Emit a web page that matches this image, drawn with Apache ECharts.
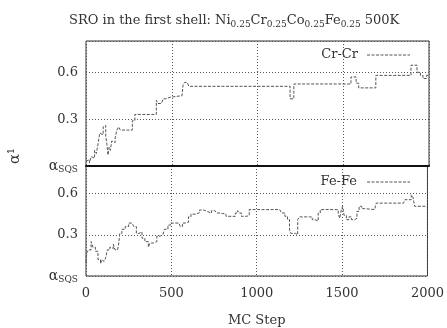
<!DOCTYPE html>
<html>
<head>
<meta charset="utf-8">
<script src="https://cdn.jsdelivr.net/npm/echarts@6/dist/echarts.min.js"></script>
<style>
  html, body { margin: 0; padding: 0; background: #fff; }
  #chart { width: 447px; height: 328px; }
</style>
</head>
<body>
<div id="chart"></div>
<script>
// Monte Carlo trajectory of the first-shell SRO parameter (Cr-Cr pair)
const crSteps = [0, 10, 20, 30, 40, 50, 60, 70, 80, 90, 100, 108, 115, 122, 128, 135, 142, 150, 160, 170,
  180, 190, 200, 270, 285, 410, 420, 440, 450, 465, 490, 560, 566, 575, 590, 600, 1190, 1212,
  1545, 1575, 1590, 1690, 1895, 1930, 1950, 1965, 1985, 2000];
const crValues = [0.03, 0.04, 0.02, 0.06, 0.05, 0.10, 0.08, 0.14, 0.21, 0.20, 0.25, 0.26, 0.19, 0.14, 0.07, 0.12, 0.10, 0.16, 0.15, 0.18,
  0.23, 0.25, 0.23, 0.29, 0.33, 0.42, 0.40, 0.41, 0.43, 0.44, 0.45, 0.45, 0.52, 0.535, 0.53, 0.51, 0.43, 0.525,
  0.57, 0.53, 0.50, 0.58, 0.645, 0.60, 0.58, 0.56, 0.58, 0.58];

// Same quantity for the Fe-Fe pair
const feSteps = [0, 5, 15, 30, 40, 55, 70, 85, 95, 105, 115, 125, 140, 150, 160, 170, 185, 192, 198, 210,
  230, 250, 270, 280, 295, 310, 328, 345, 365, 375, 395, 415, 435, 450, 460, 480, 495, 545, 552, 565,
  580, 600, 615, 640, 665, 690, 715, 735, 755, 765, 785, 820, 860, 875, 888, 898, 910, 940, 956, 1135,
  1145, 1165, 1180, 1192, 1200, 1228, 1240, 1250, 1310, 1325, 1341, 1360, 1372, 1465, 1477, 1486, 1495, 1503, 1512, 1525,
  1540, 1555, 1575, 1587, 1600, 1615, 1632, 1690, 1700, 1860, 1868, 1905, 1915, 1925, 2000];
const feValues = [0.10, 0.17, 0.19, 0.25, 0.21, 0.18, 0.12, 0.09, 0.12, 0.105, 0.13, 0.19, 0.21, 0.20, 0.23, 0.19, 0.20, 0.24, 0.31, 0.34,
  0.36, 0.385, 0.385, 0.36, 0.31, 0.32, 0.275, 0.25, 0.21, 0.24, 0.25, 0.29, 0.30, 0.31, 0.34, 0.37, 0.385, 0.385, 0.36, 0.385,
  0.39, 0.43, 0.45, 0.46, 0.48, 0.467, 0.458, 0.475, 0.475, 0.458, 0.45, 0.434, 0.434, 0.458, 0.475, 0.458, 0.434, 0.44, 0.483, 0.483,
  0.458, 0.434, 0.41, 0.336, 0.31, 0.30, 0.41, 0.43, 0.43, 0.41, 0.40, 0.458, 0.483, 0.483, 0.458, 0.42, 0.48, 0.507, 0.44, 0.41,
  0.43, 0.41, 0.42, 0.47, 0.507, 0.49, 0.483, 0.483, 0.53, 0.536, 0.555, 0.59, 0.575, 0.507, 0.507];

const xTicks = [0, 500, 1000, 1500, 2000];
const pairNames = ['Cr-Cr', 'Fe-Fe'];

const SERIF = '"DejaVu Serif", "Liberation Serif", serif';
const INK = '#333';

const chart = echarts.init(document.getElementById('chart'), null, { renderer: 'canvas' });

const zip = (xs, ys) => xs.map((x, i) => [x, ys[i]]);

// main glyphs plus a smaller, lowered run for subscripts
const richText = (size, subSize, drop) => ({
  t: { fontFamily: SERIF, fontSize: size, fontWeight: 'normal', color: INK },
  s: { fontFamily: SERIF, fontSize: subSize, fontWeight: 'normal', color: INK, padding: [drop * 2, 0, 0, 0] }
});

const yFormatter = v => (v === 0 ? '{t|α}{s|SQS}' : (v === 0.3 || v === 0.6 ? v.toFixed(1) : ''));

const gridLine = { show: true, lineStyle: { color: '#555', type: [1, 2], width: 1 } };

const xAxisBase = {
  type: 'value', min: 0, max: 2000, interval: 500,
  axisTick: { show: false },
  axisLine: { show: false },
  splitLine: gridLine
};
const yAxisBase = {
  type: 'value', min: 0, max: 0.8, interval: 0.3,
  axisTick: { show: false },
  axisLine: { show: false },
  splitLine: gridLine,
  axisLabel: { formatter: yFormatter, rich: richText(14, 9, 4), fontFamily: SERIF, fontSize: 13, color: INK, margin: 8 }
};

const lineStyle = { color: '#555', width: 1, type: [3, 1.5] };

chart.setOption({
  animation: false,
  backgroundColor: '#fff',
  title: {
    text: '{t|SRO in the first shell: Ni}{s|0.25}{t|Cr}{s|0.25}{t|Co}{s|0.25}{t|Fe}{s|0.25}{t| 500K}',
    left: 64, top: 7,
    textStyle: { rich: richText(13, 9, 4), fontFamily: SERIF, fontSize: 13, fontWeight: 'normal', color: INK }
  },
  grid: [
    { left: 86, right: 18, top: 41, height: 125, show: true, borderColor: '#333', borderWidth: 1, containLabel: false },
    { left: 86, right: 18, top: 166, height: 110, show: true, borderColor: '#333', borderWidth: 1, containLabel: false }
  ],
  xAxis: [
    Object.assign({}, xAxisBase, {
      gridIndex: 0,
      axisLabel: { show: false },
      axisLine: { show: true, lineStyle: { color: '#111', width: 2 } }
    }),
    Object.assign({}, xAxisBase, {
      gridIndex: 1,
      name: 'MC Step', nameLocation: 'middle', nameGap: 38,
      nameTextStyle: { fontFamily: SERIF, fontSize: 13, color: INK },
      axisLabel: {
        fontFamily: SERIF, fontSize: 13, color: INK, margin: 11,
        formatter: v => (xTicks.includes(v) ? String(v) : '')
      }
    })
  ],
  yAxis: [
    Object.assign({}, yAxisBase, { gridIndex: 0 }),
    Object.assign({}, yAxisBase, { gridIndex: 1 })
  ],
  graphic: [
    {
      type: 'text', x: 15, y: 156, rotation: Math.PI / 2,
      style: { text: 'α¹', font: '15px ' + SERIF, fill: INK, textAlign: 'center', textVerticalAlign: 'middle' }
    },
    { type: 'text', x: 358, y: 55, style: { text: pairNames[0], font: '13px ' + SERIF, fill: INK, textAlign: 'right', textVerticalAlign: 'middle' } },
    { type: 'line', shape: { x1: 367, y1: 55, x2: 410, y2: 55 }, style: { stroke: '#555', lineWidth: 1, lineDash: [3, 1.5] } },
    { type: 'text', x: 357, y: 182, style: { text: pairNames[1], font: '13px ' + SERIF, fill: INK, textAlign: 'right', textVerticalAlign: 'middle' } },
    { type: 'line', shape: { x1: 367, y1: 182, x2: 410, y2: 182 }, style: { stroke: '#555', lineWidth: 1, lineDash: [3, 1.5] } }
  ],
  series: [
    {
      name: pairNames[0], type: 'line', xAxisIndex: 0, yAxisIndex: 0,
      step: 'end', showSymbol: false, symbol: 'none',
      lineStyle: lineStyle, data: zip(crSteps, crValues), z: 3
    },
    {
      name: pairNames[1], type: 'line', xAxisIndex: 1, yAxisIndex: 1,
      step: 'end', showSymbol: false, symbol: 'none',
      lineStyle: lineStyle, data: zip(feSteps, feValues), z: 3
    }
  ]
});
</script>
</body>
</html>
